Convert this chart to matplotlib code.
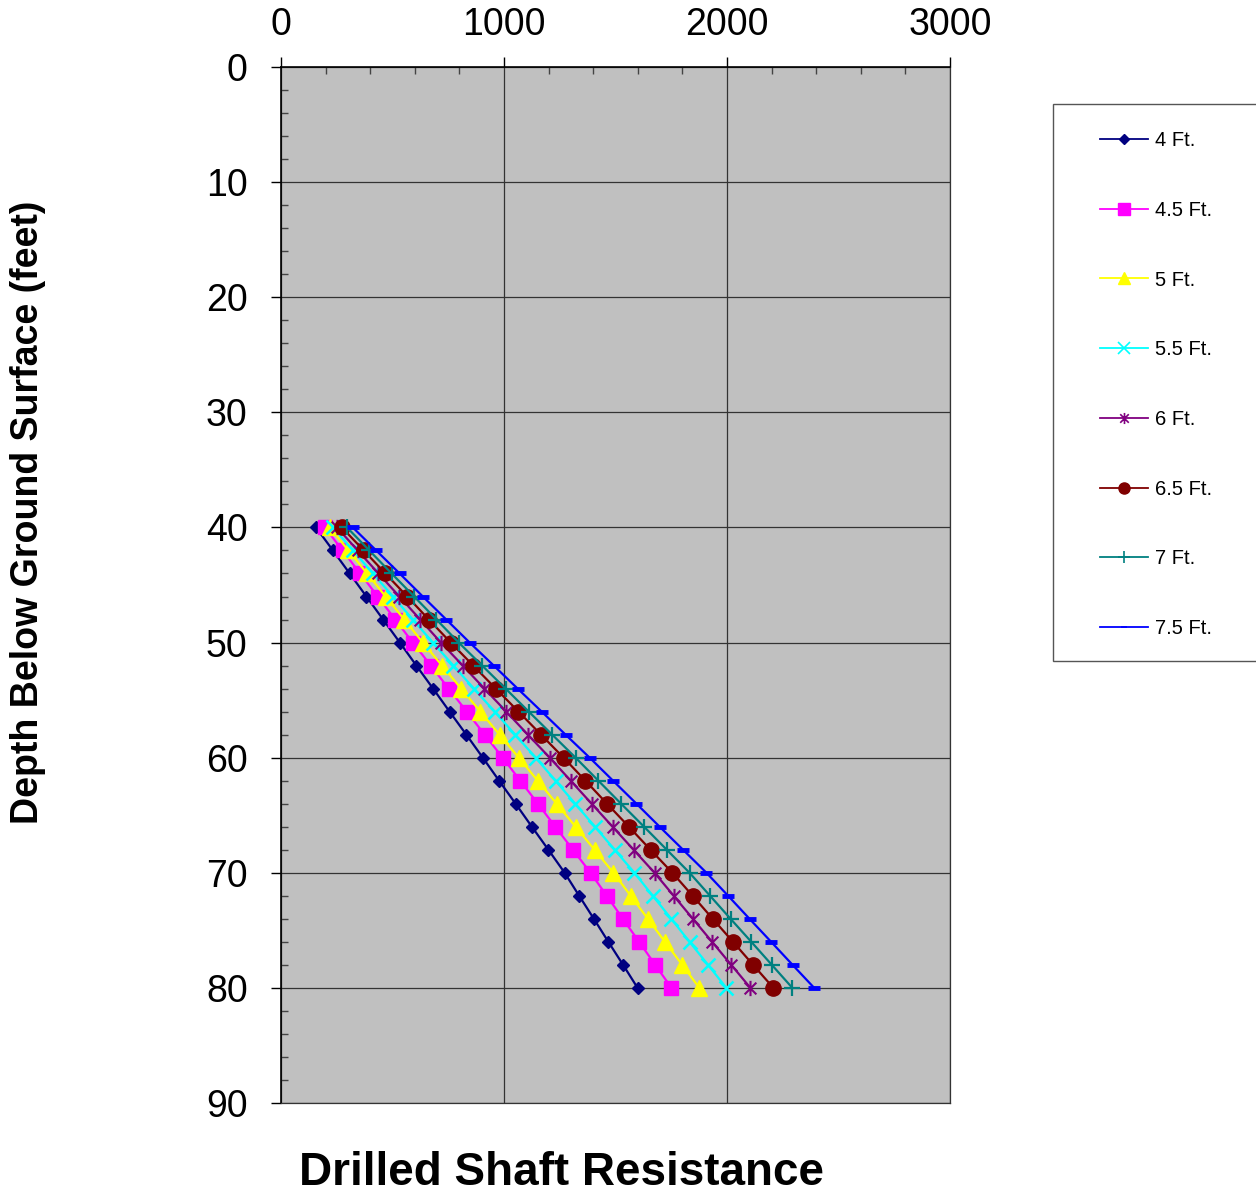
import matplotlib
matplotlib.use("Agg")
import matplotlib.pyplot as plt
from matplotlib.lines import Line2D
from matplotlib.patches import Rectangle
from matplotlib.path import Path
from matplotlib.ticker import MultipleLocator

plt.rcParams['font.family'] = ['Liberation Sans', 'DejaVu Sans']

# depth below ground surface (ft)
depths = [40, 42, 44, 46, 48, 50, 52, 54, 56, 58, 60,
          62, 64, 66, 68, 70, 72, 74, 76, 78, 80]

# drilled shaft resistance per shaft diameter
res_4_0 = [157, 233, 308, 383, 458, 533, 607, 682, 756, 831, 905,
           978, 1052, 1125, 1199, 1272, 1337, 1403, 1468, 1534, 1599]
res_4_5 = [197, 276, 355, 434, 512, 591, 672, 752, 833, 913, 994,
           1073, 1152, 1230, 1309, 1388, 1461, 1533, 1606, 1678, 1751]
res_5_0 = [219, 302, 386, 469, 553, 636, 722, 808, 894, 980, 1066,
           1151, 1236, 1321, 1406, 1491, 1568, 1645, 1722, 1799, 1876]
res_5_5 = [233, 323, 412, 502, 591, 681, 773, 865, 958, 1050, 1142,
           1231, 1319, 1408, 1496, 1585, 1667, 1750, 1832, 1915, 1997]
res_6_0 = [251, 344, 437, 531, 624, 717, 815, 912, 1010, 1107, 1205,
           1299, 1393, 1487, 1581, 1675, 1761, 1847, 1933, 2019, 2105]
res_6_5 = [273, 371, 468, 566, 663, 761, 862, 963, 1065, 1166, 1267,
           1365, 1462, 1560, 1657, 1755, 1846, 1936, 2027, 2117, 2208]
res_7_0 = [296, 396, 496, 597, 697, 797, 902, 1007, 1111, 1216, 1321,
           1423, 1525, 1628, 1730, 1832, 1924, 2016, 2109, 2201, 2293]
res_7_5 = [322, 427, 532, 636, 741, 846, 954, 1061, 1169, 1276, 1384,
           1489, 1594, 1698, 1803, 1908, 2005, 2101, 2198, 2294, 2391]

labels = ["4 Ft.", "4.5 Ft.", "5 Ft.", "5.5 Ft.", "6 Ft.", "6.5 Ft.", "7 Ft.", "7.5 Ft."]
series = [res_4_0, res_4_5, res_5_0, res_5_5, res_6_0, res_6_5, res_7_0, res_7_5]

# excel style star marker: x with a vertical bar
star = Path([(-1, -1), (1, 1), (-1, 1), (1, -1), (0, -1.3), (0, 1.3)],
            [Path.MOVETO, Path.LINETO, Path.MOVETO, Path.LINETO, Path.MOVETO, Path.LINETO])

styles = [
    dict(color='#000080', marker='D', ms=6),
    dict(color='#FF00FF', marker='s', ms=10),
    dict(color='#FFFF00', marker='^', ms=11),
    dict(color='#00FFFF', marker='x', ms=10, mew=1.8),
    dict(color='#800080', marker=star, ms=11, mew=1.5),
    dict(color='#800000', marker='o', ms=11),
    dict(color='#008080', marker='+', ms=12, mew=1.6),
    dict(color='#0000FF', marker='_', ms=8, mew=3.5),
]
legend_ms = [5, 8, 8, 8, 8, 8, 8, 5]

fig = plt.figure(figsize=(12.56, 11.97), dpi=100)
ax = fig.add_axes([281 / 1256, 1 - 1103 / 1197, (950 - 281) / 1256, (1103 - 67) / 1197])
ax.set_facecolor('#C0C0C0')

for vals, st in zip(series, styles):
    ax.plot(vals, depths, lw=1.6, **st)

ax.set_xlim(0, 3000)
ax.set_ylim(90, 0)
ax.xaxis.tick_top()
ax.xaxis.set_major_locator(MultipleLocator(1000))
ax.xaxis.set_minor_locator(MultipleLocator(200))
ax.yaxis.set_major_locator(MultipleLocator(10))
ax.yaxis.set_minor_locator(MultipleLocator(2))
ax.tick_params(which='major', direction='out', length=7, width=1, labelsize=27, colors='black', pad=10)
ax.tick_params(axis='y', which='major', pad=17)
ax.tick_params(which='minor', direction='in', length=5, width=1, color='#444444')
ax.tick_params(axis='x', which='minor', top=True, bottom=False)
ax.tick_params(axis='y', which='minor', left=True, right=False)
ax.grid(True, which='major', color='#333333', lw=0.9)
for s in ['left', 'top']:
    ax.spines[s].set_color('black')
    ax.spines[s].set_linewidth(1.2)
for s in ['right', 'bottom']:
    ax.spines[s].set_color('#333333')
    ax.spines[s].set_linewidth(0.9)

ax.set_xlabel("Drilled Shaft Resistance", fontsize=33, fontweight='bold')
ax.xaxis.set_label_position('bottom')
ax.xaxis.set_label_coords(0.42, -0.046)
ax.set_ylabel("Depth Below Ground Surface (feet)", fontsize=27, fontweight='bold')
ax.yaxis.set_label_coords(-0.352, 0.570)

# legend box running off the right edge
fig.patches.append(Rectangle((1053 / 1256, 1 - 661 / 1197), 0.3, (661 - 104) / 1197,
                             transform=fig.transFigure, facecolor='white',
                             edgecolor='#555555', lw=1, zorder=0))
handles = []
for st, lms in zip(styles, legend_ms):
    h = dict(st)
    h['ms'] = lms
    if 'mew' in h:
        h['mew'] = min(h['mew'], 1.2)
    handles.append(Line2D([], [], lw=1.3, **h))
fig.legend(handles, labels, loc='upper left', bbox_to_anchor=(1100 / 1256, 1 - 131 / 1197),
           frameon=False, fontsize=14.5, labelspacing=2.52, handlelength=2.39,
           handletextpad=0.35, borderaxespad=0, borderpad=0)

fig.savefig("out.png", dpi=100)
